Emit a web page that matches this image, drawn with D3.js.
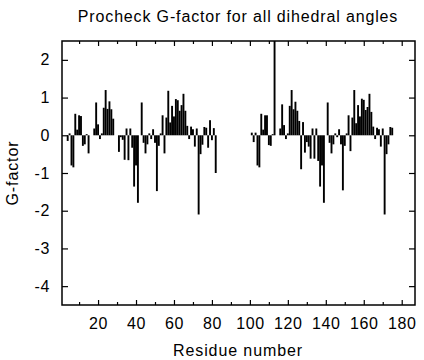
<!DOCTYPE html>
<html>
<head>
<meta charset="utf-8">
<script src="https://cdn.jsdelivr.net/npm/d3@7"></script>
<style>
  html, body { margin: 0; padding: 0; background: #fff; }
  svg { display: block; }
  text { font-family: "Liberation Sans", Arial, Helvetica, sans-serif; fill: #000; }
</style>
</head>
<body>
<svg id="chart" width="424" height="360"></svg>
<script>
// ---- data ----
const chainAResidues = [4,5,6,7,8,9,10,11,12,13,14,15,18,19,20,21,22,23,24,25,26,27,28,
  31,32,33,34,35,36,37,38,39,40,41,43,44,45,46,47,48,49,50,51,52,53,54,55,56,57,58,59,60,
  61,62,63,64,65,66,67,68,69,70,71,72,73,74,75,76,77,78,79,80,81,82];
const chainAGFactor = [-0.15,0.05,-0.8,-0.85,0.57,0.15,0.53,0.51,-0.28,-0.24,0.03,-0.48,
  0.18,0.87,0.29,-0.1,0.05,0.73,1.2,0.7,0.9,0.69,0.44,
  -0.44,-0.05,-0.12,-0.65,0.18,-0.66,0.18,-0.33,-1.36,-0.8,-1.79,0.87,-0.2,-0.48,-0.24,0.05,-0.1,
  0.16,-0.2,-1.48,-0.28,0.05,0.53,-0.48,0.47,1.18,0.34,0.78,0.5,0.96,0.93,0.65,0.8,1.1,0.65,
  0.25,-0.1,0.23,0.16,-0.3,0.18,-2.1,-0.5,-0.25,0.22,0.2,-0.33,0.4,-0.13,0.19,-1.0];
const chainBResidues = [101,102,103,104,105,106,107,108,109,110,111,112,113,116,117,118,119,
  120,121,122,123,124,125,126,127,128,129,130,131,132,133,134,135,136,137,138,139,141,142,143,
  144,145,146,147,148,149,150,151,152,153,154,155,156,157,158,159,160,161,162,163,164,165,166,
  167,168,169,170,171,172,173,174,175];
const chainBGFactor = [0.07,-0.18,0.07,-0.8,-0.85,0.57,0.15,0.53,0.53,-0.26,-0.28,0.03,3.5,
  0.18,0.82,0.27,-0.1,0.05,0.78,1.2,0.69,0.89,0.65,0.38,-0.9,0.35,-0.46,-0.18,-0.3,-0.62,0.18,
  -0.62,0.18,-0.68,-1.36,-0.8,-1.79,0.87,-0.2,-0.48,-0.24,0.05,-0.05,0.16,-0.24,-1.46,-0.28,0.05,
  0.53,-0.42,0.47,1.2,0.32,0.8,0.5,0.97,0.94,0.67,0.75,1.1,0.62,0.23,-0.1,0.2,0.16,-0.3,0.18,
  -2.1,-0.5,-0.24,0.22,0.2];
const xMajorTicks = [20,40,60,80,100,120,140,160,180];
const xMinorTicks = [10,30,50,70,90,110,130,150,170];
const yTicks = [-4,-3,-2,-1,0,1,2];
const xDomain = [1, 187];
const yDomain = [-4.5, 2.5];

const bars = chainAResidues.map((r,i) => ({r, v: chainAGFactor[i]}))
  .concat(chainBResidues.map((r,i) => ({r, v: chainBGFactor[i]})));

// ---- layout ----
const pL = 62, pR = 415, pT = 41, pB = 305;
const svg = d3.select("#chart");
const x = d3.scaleLinear().domain(xDomain).range([pL, pR]);
const y = d3.scaleLinear().domain(yDomain).range([pB, pT]);

svg.append("defs").append("clipPath").attr("id", "plotclip")
  .append("rect").attr("x", pL).attr("y", pT).attr("width", pR-pL).attr("height", pB-pT);

svg.append("g").attr("clip-path", "url(#plotclip)")
  .selectAll("rect").data(bars).join("rect")
  .attr("x", d => x(d.r - 0.5))
  .attr("width", d => x(d.r + 0.5) - x(d.r - 0.5))
  .attr("y", d => Math.min(y(d.v), y(0)))
  .attr("height", d => Math.abs(y(d.v) - y(0)))
  .attr("fill", "#000");

const fmt = d => String(d);
function styleAxis(g) {
  g.select(".domain").remove();
  g.selectAll(".tick line").attr("stroke", "#000").attr("stroke-width", 1.2);
  g.selectAll(".tick text").style("font-size", "16px").style("letter-spacing", "0.6px");
}
// bottom
svg.append("g").attr("transform", `translate(0,${pB})`)
  .call(d3.axisBottom(x).tickValues(xMajorTicks).tickFormat(fmt).tickSize(-5).tickPadding(13))
  .call(styleAxis);
svg.append("g").attr("transform", `translate(0,${pB})`)
  .call(d3.axisBottom(x).tickValues(xMinorTicks).tickFormat("").tickSize(-3))
  .call(styleAxis);
// top
svg.append("g").attr("transform", `translate(0,${pT})`)
  .call(d3.axisTop(x).tickValues(xMajorTicks).tickFormat("").tickSize(-5))
  .call(styleAxis);
svg.append("g").attr("transform", `translate(0,${pT})`)
  .call(d3.axisTop(x).tickValues(xMinorTicks).tickFormat("").tickSize(-3))
  .call(styleAxis);
// left
svg.append("g").attr("transform", `translate(${pL},0)`)
  .call(d3.axisLeft(y).tickValues(yTicks).tickFormat(fmt).tickSize(-6).tickPadding(12))
  .call(styleAxis);
// right
svg.append("g").attr("transform", `translate(${pR},0)`)
  .call(d3.axisRight(y).tickValues(yTicks).tickFormat("").tickSize(-6))
  .call(styleAxis);

// frame
svg.append("rect").attr("x", pL).attr("y", pT).attr("width", pR-pL).attr("height", pB-pT)
  .attr("fill", "none").attr("stroke", "#000").attr("stroke-width", 1.5);

// titles
svg.append("text").attr("x", 238).attr("y", 22).attr("text-anchor", "middle")
  .style("font-size", "16px").style("letter-spacing", "0.85px")
  .text("Procheck G-factor for all dihedral angles");
svg.append("text").attr("x", 238).attr("y", 356).attr("text-anchor", "middle")
  .style("font-size", "16px").style("letter-spacing", "0.9px")
  .text("Residue number");
svg.append("text").attr("transform", `translate(18,${(pT+pB)/2}) rotate(-90)`)
  .attr("text-anchor", "middle")
  .style("font-size", "16px").style("letter-spacing", "0.9px")
  .text("G-factor");
</script>
</body>
</html>
